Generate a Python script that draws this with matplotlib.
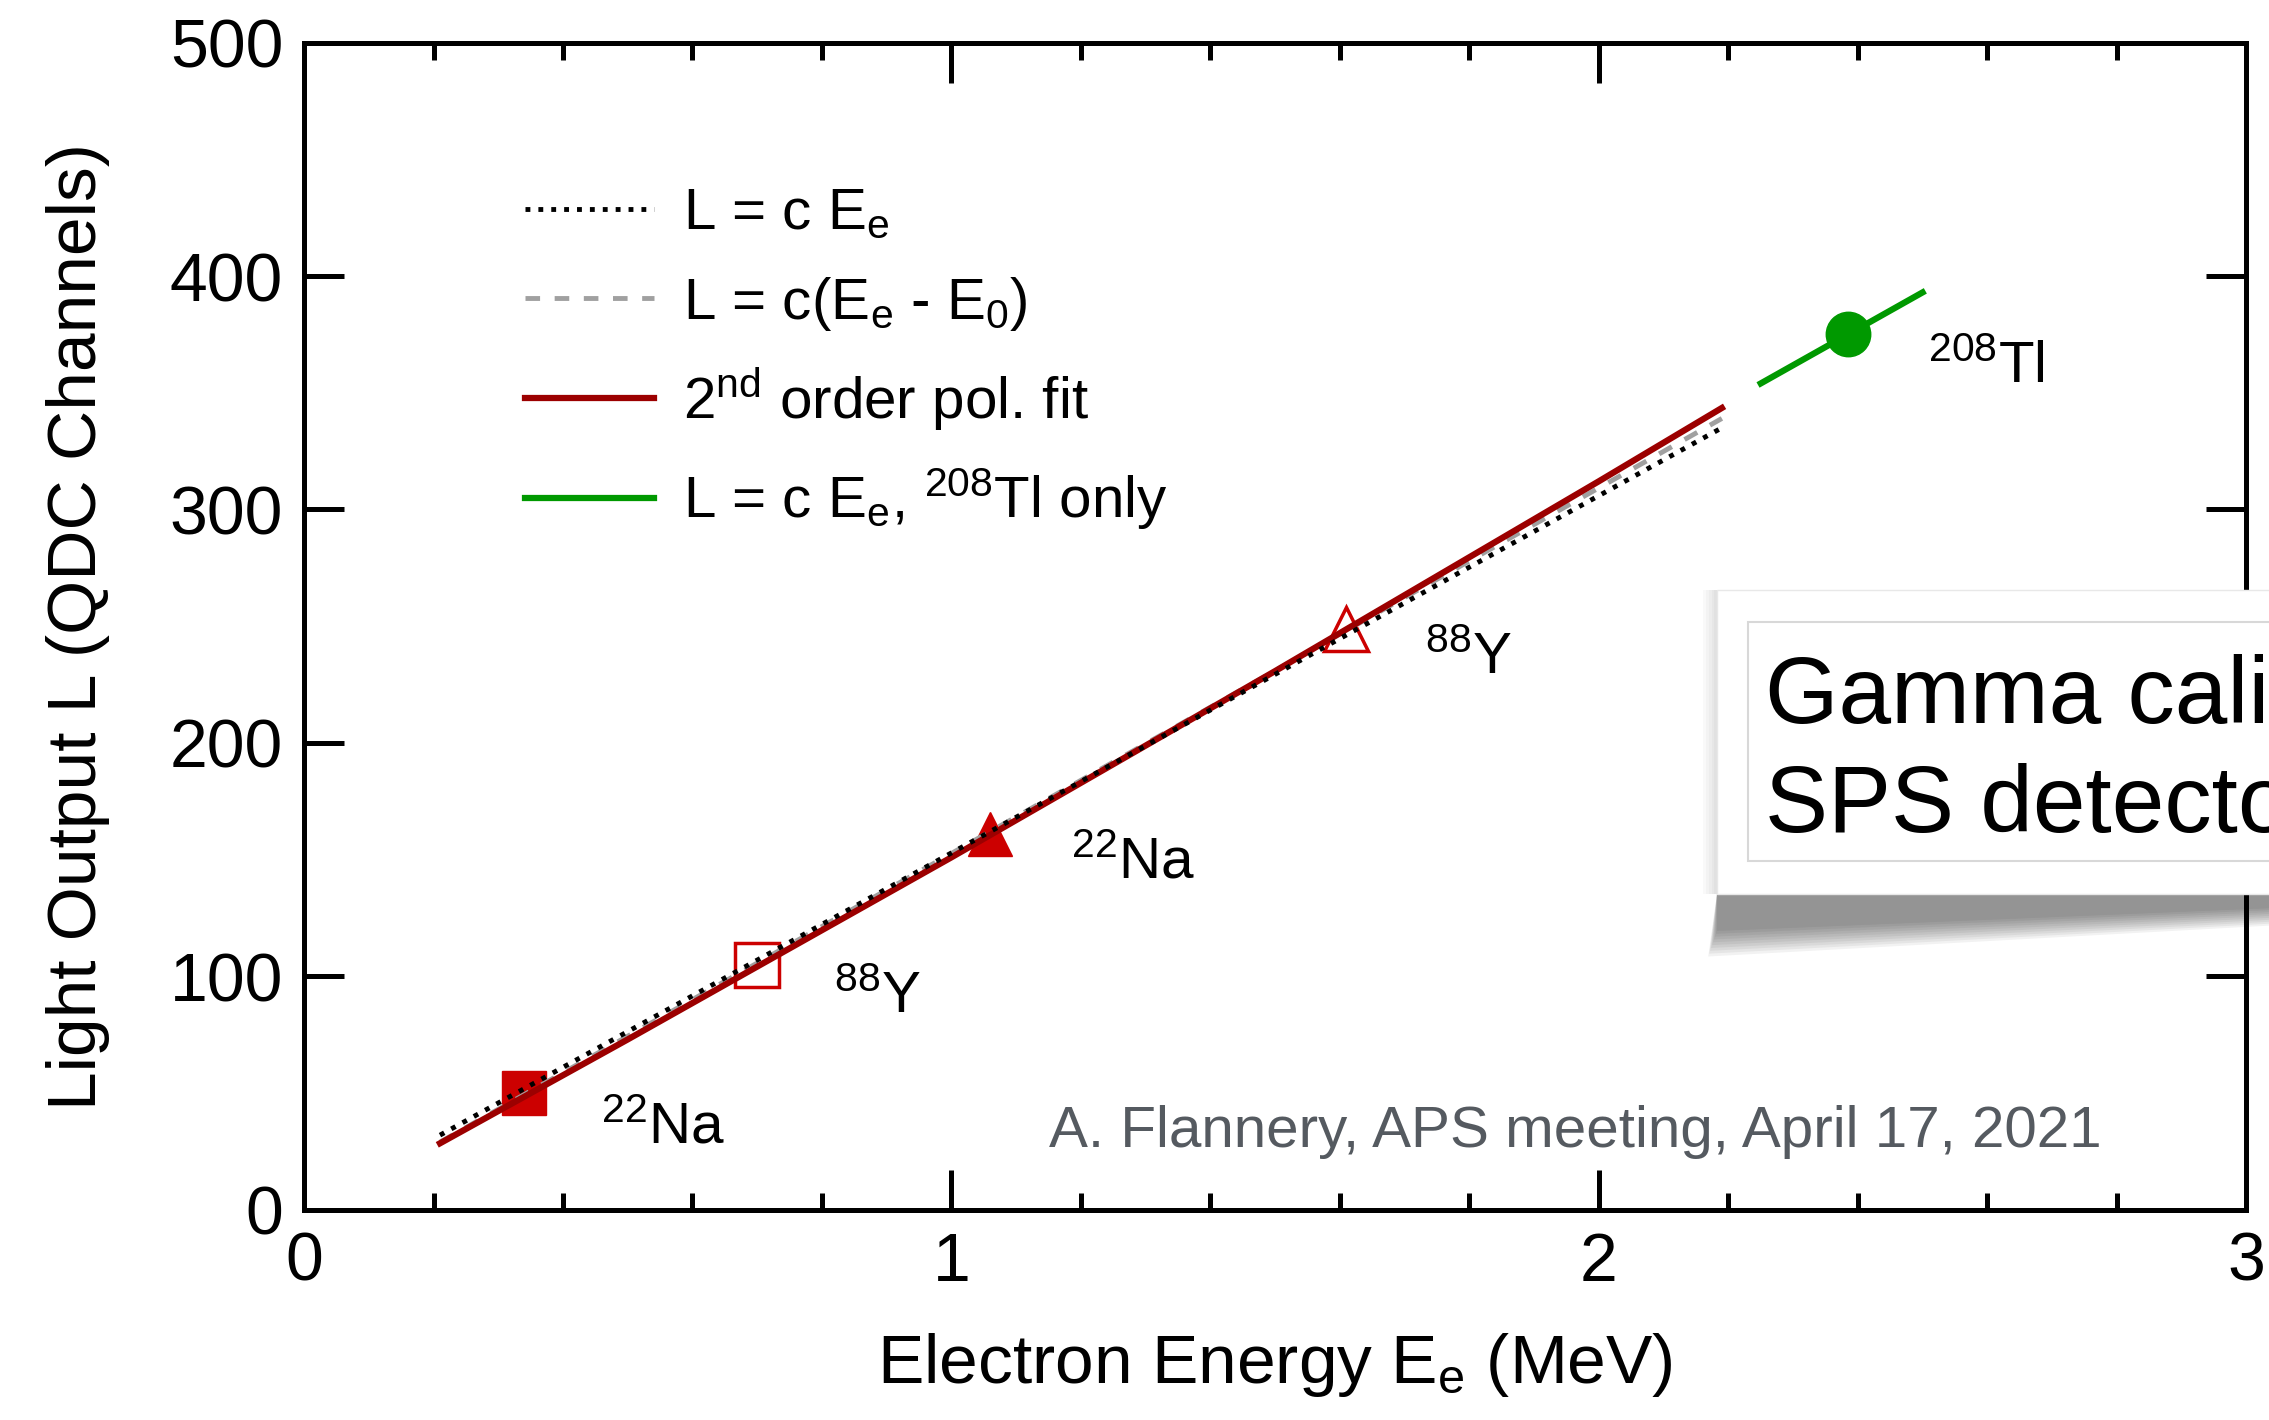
import matplotlib.pyplot as plt
from matplotlib.patches import Rectangle, Polygon

plt.rcParams['font.family'] = ['Liberation Sans', 'DejaVu Sans']
plt.rcParams['mathtext.fontset'] = 'custom'
plt.rcParams['mathtext.rm'] = 'Liberation Sans'
plt.rcParams['mathtext.it'] = 'Liberation Sans:italic'
plt.rcParams['mathtext.bf'] = 'Liberation Sans:bold'

# ---- measured points (Compton edges) ----
na_e = [0.34, 1.06]
na_l = [50, 161]
y88_e = [0.70, 1.61]
y88_l = [105, 249]
tl_e = [2.385]
tl_l = [375]

# ---- calibration curves ----
lin_e = [0.21, 2.19]                 # L = c E_e
lin_l = [32, 335]
off_e = [0.21, 2.19]                 # L = c(E_e - E_0)
off_l = [29, 339]
pol_e = [0.21, 0.5, 1.0, 1.5, 2.0, 2.19]   # 2nd order pol. fit
pol_l = [28.5, 73.0, 151.0, 230.8, 312.1, 343.5]
tlfit_e = [2.25, 2.50]               # 208Tl only
tlfit_l = [354, 393]

# ---- labels ----
src_text = [r"$^{22}$Na", r"$^{88}$Y", r"$^{22}$Na", r"$^{88}$Y", r"$^{208}$Tl"]
src_x = [0.458, 0.818, 1.184, 1.731, 2.509]
src_y = [28.5, 84.4, 142, 229.5, 354]

RED = "#cc0000"
DKRED = "#9c0000"
GREEN = "#009900"

fig = plt.figure(figsize=(22.69, 14.2), dpi=100)
ax = fig.add_axes([0.134, 0.148, 0.856, 0.822])

ax.plot(off_e, off_l, color="#a0a0a0", lw=3.5, ls=(0, (3, 3)), zorder=3,
        label=r"L = c(E$_{\rm e}$ - E$_0$)")
ax.plot(pol_e, pol_l, color=DKRED, lw=4.5, zorder=4,
        label=r"2$^{\rm nd}$ order pol. fit")
ax.plot(lin_e, lin_l, color="black", lw=3.5, ls=":", zorder=5,
        label=r"L = c E$_{\rm e}$")
ax.plot(tlfit_e, tlfit_l, color=GREEN, lw=4.5, zorder=4,
        label=r"L = c E$_{\rm e}$, $^{208}$Tl only")

ax.plot(na_e[0], na_l[0], "s", ms=31, color=RED, zorder=2)
ax.plot(y88_e[0], y88_l[0], "s", ms=31, mfc="none", mec=RED, mew=2.5, zorder=2)
ax.plot(na_e[1], na_l[1], "^", ms=31, color=RED, zorder=2)
ax.plot(y88_e[1], y88_l[1], "^", ms=31, mfc="none", mec=RED, mew=2.5, zorder=2)
ax.plot(tl_e, tl_l, "o", ms=32, color=GREEN, zorder=6)

for t, x, y in zip(src_text, src_x, src_y):
    ax.text(x, y, t, fontsize=42, va="baseline", ha="left")

ax.text(1.15, 27, "A. Flannery, APS meeting, April 17, 2021", fontsize=42,
        color="#555a60", va="baseline", ha="left")

h, l = ax.get_legend_handles_labels()
order = [2, 0, 1, 3]
ax.legend([h[i] for i in order], [l[i] for i in order], loc="upper left",
          bbox_to_anchor=(0.114, 0.876), frameon=False, fontsize=42,
          handlelength=2.2, handletextpad=0.5, labelspacing=0.57,
          borderpad=0, borderaxespad=0)

ax.set_xlim(0, 3)
ax.set_ylim(0, 500)
ax.set_xticks([0, 1, 2, 3])
ax.set_xticks([0.2, 0.4, 0.6, 0.8, 1.2, 1.4, 1.6, 1.8, 2.2, 2.4, 2.6, 2.8], minor=True)
ax.set_yticks([0, 100, 200, 300, 400, 500])
ax.tick_params(which="both", direction="in", top=True, right=True, width=3.6,
               labelsize=49)
ax.tick_params(which="major", length=29, pad=15)
ax.tick_params(which="minor", length=12)
for s in ax.spines.values():
    s.set_linewidth(3.6)

ax.set_xlabel(r"Electron Energy E$_{\rm e}$ (MeV)", fontsize=50)
ax.set_ylabel("Light Output L (QDC Channels)", fontsize=50)
ax.xaxis.set_label_coords(0.5, -0.104)
ax.yaxis.set_label_coords(-0.100, 0.5)

# slide overlay box with shadow
for k in range(10):
    d = k * 3
    fig.patches.append(Polygon(
        [(0.7567, 0.3704), (1.0, 0.3704), (1.0, 0.3704 - (0.010 + d / 2200)),
         (0.7567 - d / 7000, 0.3704 - (0.026 + d / 1500))],
        closed=True, transform=fig.transFigure, facecolor="black",
        alpha=0.05, edgecolor="none", zorder=9))
for k in range(5):
    fig.patches.append(Rectangle((0.7567 - (k + 1) * 0.0012, 0.3704), (k + 1) * 0.0012,
                                 0.214, transform=fig.transFigure,
                                 facecolor="black", alpha=0.025, edgecolor="none", zorder=9))
fig.patches.append(Rectangle((0.7567, 0.3704), 0.30, 0.2141, transform=fig.transFigure,
                             facecolor="white", edgecolor="#e8e8e8", lw=1, zorder=10))
fig.patches.append(Rectangle((0.7704, 0.3937), 0.30, 0.1683, transform=fig.transFigure,
                             facecolor="white", edgecolor="#d8d8d8", lw=1.5, zorder=11))
fig.text(0.778, 0.491, "Gamma calibration", fontsize=68, va="baseline", zorder=12)
fig.text(0.778, 0.414, "SPS detector", fontsize=68, va="baseline", zorder=12)

fig.savefig("out.png", dpi=100)
